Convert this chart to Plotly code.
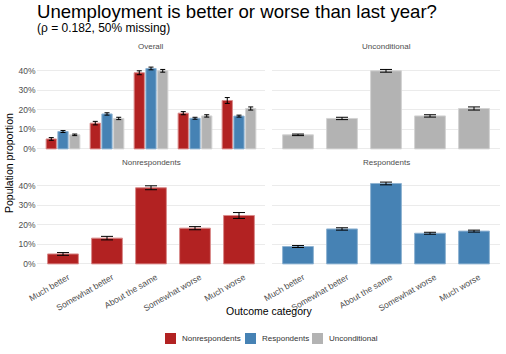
import plotly.graph_objects as go

categories = ["Much better", "Somewhat better", "About the same", "Somewhat worse", "Much worse"]
nonresp = [0.051, 0.132, 0.390, 0.183, 0.248]
nonresp_err = [0.007, 0.009, 0.010, 0.008, 0.015]
resp = [0.089, 0.179, 0.412, 0.157, 0.168]
resp_err = [0.005, 0.006, 0.007, 0.005, 0.005]
uncond = [0.072, 0.156, 0.400, 0.169, 0.207]
uncond_err = [0.004, 0.006, 0.007, 0.006, 0.008]
ytick_vals = [0, 0.1, 0.2, 0.3, 0.4]
ytick_text = ["0%", "10%", "20%", "30%", "40%"]
legend_names = ["Nonrespondents", "Respondents", "Unconditional"]

RED, BLUE, GRAY = "#B22222", "#4682B4", "#B3B3B3"
RED_L, BLUE_L, GRAY_L = "#D98A8A", "#8FB3D2", "#D3D3D3"
W, H = 506, 354
FONT = "Liberation Sans, Arial, sans-serif"

def px(x):
    return x / W

def py(y):
    return 1 - y / H

xdom_l = [px(36.6), px(265.4)]
xdom_r = [px(271.6), px(500.4)]
ydom_t = [py(153), py(63)]
ydom_b = [py(268), py(178)]

fig = go.Figure()

def add_bar(xa, ya, y, err, color, lcolor, name, width, offset, cap):
    fig.add_trace(go.Bar(
        x=categories, y=y, xaxis=xa, yaxis=ya, name=name,
        width=width, offset=offset,
        marker=dict(color=color, line=dict(color=lcolor, width=1)),
        error_y=dict(type="data", array=err, visible=True, color="black", thickness=1, width=cap),
        showlegend=False, hoverinfo="skip",
    ))

dw = 0.8 / 3
bw = 0.7 / 3
add_bar("x", "y", nonresp, nonresp_err, RED, RED_L, "Nonrespondents", bw, -dw - bw / 2, 2.5)
add_bar("x", "y", resp, resp_err, BLUE, BLUE_L, "Respondents", bw, -bw / 2, 2.5)
add_bar("x", "y", uncond, uncond_err, GRAY, GRAY_L, "Unconditional", bw, dw - bw / 2, 2.5)
add_bar("x2", "y2", uncond, uncond_err, GRAY, GRAY_L, "Unconditional", 0.7, -0.35, 6)
add_bar("x3", "y3", nonresp, nonresp_err, RED, RED_L, "Nonrespondents", 0.7, -0.35, 6)
add_bar("x4", "y4", resp, resp_err, BLUE, BLUE_L, "Respondents", 0.7, -0.35, 6)

xbase = dict(type="category", range=[-0.6, 4.6], showgrid=False, zeroline=False, automargin=False,
             showline=False, ticks="", tickfont=dict(size=8.5, color="#4D4D4D", family=FONT))
ybase = dict(range=[-0.021, 0.44], tickvals=ytick_vals, ticktext=ytick_text, automargin=False,
             showgrid=True, gridcolor="#EBEBEB", gridwidth=1, zeroline=False,
             showline=False, ticks="", tickfont=dict(size=8.5, color="#4D4D4D", family=FONT))

fig.update_layout(
    width=W, height=H,
    margin=dict(l=0, r=0, t=0, b=0, autoexpand=False),
    paper_bgcolor="white", plot_bgcolor="white",
    barmode="overlay",
    font=dict(family=FONT),
    xaxis=dict(xbase, domain=xdom_l, anchor="y", showticklabels=False),
    yaxis=dict(ybase, domain=ydom_t, anchor="x"),
    xaxis2=dict(xbase, domain=xdom_r, anchor="y2", showticklabels=False),
    yaxis2=dict(ybase, domain=ydom_t, anchor="x2", showticklabels=False),
    xaxis3=dict(xbase, domain=xdom_l, anchor="y3", tickangle=-30, ticklabelshift=5, ticklabelstandoff=2),
    yaxis3=dict(ybase, domain=ydom_b, anchor="x3"),
    xaxis4=dict(xbase, domain=xdom_r, anchor="y4", tickangle=-30, ticklabelshift=5, ticklabelstandoff=2),
    yaxis4=dict(ybase, domain=ydom_b, anchor="x4", showticklabels=False),
    showlegend=False,
    hovermode=False,
)

def ann(text, x, y, size, color, xanchor="center", yanchor="middle", angle=0):
    fig.add_annotation(text=text, x=x, y=y, xref="paper", yref="paper",
                       xanchor=xanchor, yanchor=yanchor, showarrow=False, textangle=angle,
                       borderpad=0, font=dict(size=size, color=color, family=FONT))

ann("Unemployment is better or worse than last year?", px(36), py(11.5), 18.6, "black", xanchor="left")
ann("(ρ = 0.182, 50% missing)", px(36), py(28), 12, "black", xanchor="left")
ann("Overall", px(151), py(47), 8, "#4D4D4D")
ann("Unconditional", px(386), py(47), 8, "#4D4D4D")
ann("Nonrespondents", px(151), py(162), 8, "#4D4D4D")
ann("Respondents", px(386), py(162), 8, "#4D4D4D")
ann("Outcome category", px(269), py(311), 10.5, "black")
ann("Population proportion", px(9), py(163), 10.5, "black", angle=-90)

# manual legend
leg_x = [165, 245, 312]
leg_colors = [RED, BLUE, GRAY]
for lx, col, name in zip(leg_x, leg_colors, legend_names):
    fig.add_shape(type="rect", xref="paper", yref="paper",
                  x0=px(lx), x1=px(lx + 11), y0=py(344), y1=py(333),
                  fillcolor=col, line=dict(width=0))
    ann(name, px(lx + 16), py(338.5), 8, "#333333", xanchor="left")

fig.write_html("out.html", config={"displayModeBar": False},
               post_script="document.body.style.margin='0';document.body.style.overflow='hidden';")
